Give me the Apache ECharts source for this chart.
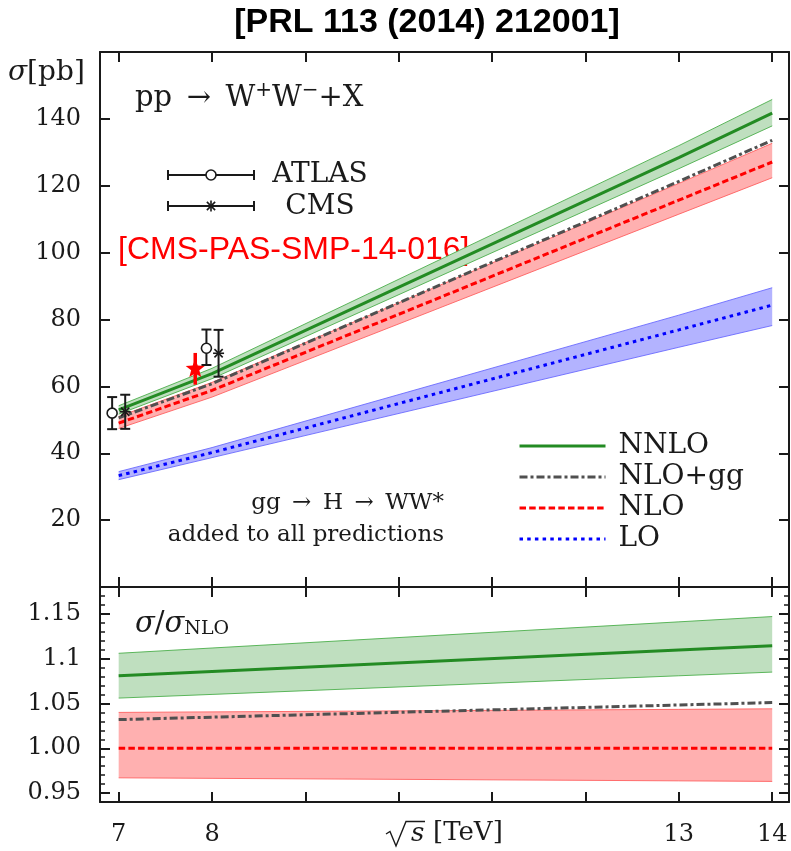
<!DOCTYPE html>
<html>
<head>
<meta charset="utf-8">
<script src="https://cdn.jsdelivr.net/npm/echarts@6/dist/echarts.min.js"></script>
<style>
  html, body { margin: 0; padding: 0; background: #fff; }
  #chart { width: 791px; height: 851px; }
</style>
</head>
<body>
<div id="chart"></div>
<script>
// Collider energies (TeV) at which the predictions are given
const energies = [7, 8, 13, 14];

// Cross sections in pb (gg -> H -> WW* included)
const nnlo     = [53.0, 63.8, 128.4, 141.7];
const nnloLow  = [51.7, 62.3, 125.1, 137.9];
const nnloHigh = [54.2, 65.4, 132.0, 145.8];
const nloGg    = [50.6, 60.8, 121.3, 133.6];
const nlo      = [49.0, 58.8, 115.7, 127.1];
const nloLow   = [47.4, 56.8, 111.5, 122.4];
const nloHigh  = [51.0, 61.2, 120.7, 132.7];
const lo       = [33.3, 40.2, 76.9, 84.3];
const loLow    = [32.1, 38.7, 71.7, 78.2];
const loHigh   = [34.5, 41.7, 81.3, 89.5];

// Ratios to the NLO central value
const rNnlo     = [1.081, 1.0858, 1.1097, 1.1145];
const rNnloLow  = [1.056, 1.0601, 1.0809, 1.085];
const rNnloHigh = [1.106, 1.1119, 1.1411, 1.147];
const rNloGg    = [1.032, 1.0347, 1.0483, 1.051];
const rNlo      = [1.0, 1.0, 1.0, 1.0];
const rNloLow   = [0.967, 0.9664, 0.9636, 0.963];
const rNloHigh  = [1.040, 1.0406, 1.0434, 1.044];

// Measurements (points drawn slightly displaced in sqrt(s) for readability)
const atlasX  = [6.93, 7.94];
const atlasY  = [52.0, 71.4];
const atlasLo = [47.2, 66.4];
const atlasHi = [56.8, 77.0];
const cmsX  = [7.07, 8.07];
const cmsY  = [52.4, 69.9];
const cmsLo = [47.3, 62.9];
const cmsHi = [57.5, 76.9];
const pasX  = [7.82];
const pasY  = [65.2];
const pasLo = [60.5];
const pasHi = [70.0];

// Axis ticks and labels
const xTicks = [7, 8, 9, 10, 11, 12, 13, 14];
const xLabels = [7, 8, 13, 14];
const yTicksTop = [20, 40, 60, 80, 100, 120, 140];
const yTicksRatio = [0.95, 1.00, 1.05, 1.10, 1.15];
const yLabelsRatio = ['0.95', '1.00', '1.05', '1.1', '1.15'];

const SERIF = 'DejaVu Serif';
const INK = '#1a1a1a';
const X_MIN = 6.8, X_MAX = 14.18;
const EN = '\u2002';

const pairs = (ys) => energies.map((x, i) => [x, ys[i]]);

// Uncertainty band: filled region between the low and high curves, with thin edges
function band(axis, lowv, hi, fill, edge) {
  return {
    type: 'custom', xAxisIndex: axis.x, yAxisIndex: axis.y, z: 2, silent: true, animation: false,
    encode: { x: 0, y: [1, 2] },
    data: energies.map((x, i) => [x, lowv[i], hi[i]]),
    renderItem: function (params, api) {
      if (params.dataIndex !== 0) return null;
      const upper = energies.map((x, i) => api.coord([x, hi[i]]));
      const lower = energies.map((x, i) => api.coord([x, lowv[i]]));
      return {
        type: 'group',
        children: [
          { type: 'polygon', shape: { points: upper.concat(lower.slice().reverse()) },
            style: { fill: fill, stroke: null } },
          { type: 'polyline', shape: { points: upper }, style: { stroke: edge, lineWidth: 0.9, fill: null } },
          { type: 'polyline', shape: { points: lower }, style: { stroke: edge, lineWidth: 0.9, fill: null } }
        ]
      };
    }
  };
}

function curve(name, axis, ys, color, type) {
  return {
    name: name, type: 'line', xAxisIndex: axis.x, yAxisIndex: axis.y,
    data: pairs(ys), symbol: 'none', z: 5, animation: false,
    lineStyle: { width: 3, color: color, type: type, cap: 'butt' },
    itemStyle: { color: color }
  };
}

function measurement(xs, ys, los, his, kind) {
  return {
    type: 'custom', xAxisIndex: 0, yAxisIndex: 0, z: 10, animation: false,
    encode: { x: 0, y: [1, 2, 3] },
    data: xs.map((x, i) => [x, ys[i], los[i], his[i]]),
    renderItem: function (params, api) {
      const c = api.coord([api.value(0), api.value(1)]);
      const pl = api.coord([api.value(0), api.value(2)]);
      const ph = api.coord([api.value(0), api.value(3)]);
      const children = [];
      if (kind === 'pas') {
        children.push({ type: 'line', shape: { x1: c[0], y1: pl[1], x2: c[0], y2: ph[1] },
          style: { stroke: '#ff0000', lineWidth: 3.5 } });
        const pts = [];
        for (let k = 0; k < 10; k++) {
          const r = k % 2 === 0 ? 10 : 4.3;
          const a = -Math.PI / 2 + k * Math.PI / 5;
          pts.push([c[0] + r * Math.cos(a), c[1] + r * Math.sin(a)]);
        }
        children.push({ type: 'polygon', shape: { points: pts }, style: { fill: '#ff0000' } });
        return { type: 'group', children: children };
      }
      const cap = 5;
      children.push({ type: 'line', shape: { x1: c[0], y1: pl[1], x2: c[0], y2: ph[1] },
        style: { stroke: INK, lineWidth: 2 } });
      children.push({ type: 'line', shape: { x1: c[0] - cap, y1: pl[1], x2: c[0] + cap, y2: pl[1] },
        style: { stroke: INK, lineWidth: 2 } });
      children.push({ type: 'line', shape: { x1: c[0] - cap, y1: ph[1], x2: c[0] + cap, y2: ph[1] },
        style: { stroke: INK, lineWidth: 2 } });
      if (kind === 'atlas') {
        children.push({ type: 'circle', shape: { cx: c[0], cy: c[1], r: 5 },
          style: { fill: '#fff', stroke: INK, lineWidth: 1.6 } });
      } else {
        const s = 5.5;
        children.push({ type: 'line', shape: { x1: c[0] - s, y1: c[1], x2: c[0] + s, y2: c[1] },
          style: { stroke: INK, lineWidth: 1.6 } });
        children.push({ type: 'line', shape: { x1: c[0] - s * 0.75, y1: c[1] - s * 0.75, x2: c[0] + s * 0.75, y2: c[1] + s * 0.75 },
          style: { stroke: INK, lineWidth: 1.6 } });
        children.push({ type: 'line', shape: { x1: c[0] - s * 0.75, y1: c[1] + s * 0.75, x2: c[0] + s * 0.75, y2: c[1] - s * 0.75 },
          style: { stroke: INK, lineWidth: 1.6 } });
      }
      return { type: 'group', children: children };
    }
  };
}

const axisLine = { show: true, onZero: false, lineStyle: { color: INK, width: 2 } };

function xAxis(grid, position, withLabels) {
  return {
    type: 'value', gridIndex: grid, position: position, min: X_MIN, max: X_MAX,
    axisLine: axisLine, splitLine: { show: false },
    axisTick: { show: true, inside: true, length: 10, customValues: xTicks,
      lineStyle: { color: INK, width: 2 } },
    axisLabel: withLabels ? { show: true, customValues: xLabels, margin: 21,
      fontFamily: SERIF, fontSize: 24, color: INK } : { show: false }
  };
}

function yAxisTop(position, withLabels) {
  return {
    type: 'value', gridIndex: 0, position: position, min: 0, max: 160,
    axisLine: axisLine, splitLine: { show: false },
    axisTick: { show: true, inside: true, length: 10, customValues: yTicksTop,
      lineStyle: { color: INK, width: 2 } },
    axisLabel: withLabels ? { show: true, customValues: yTicksTop, margin: 19,
      fontFamily: SERIF, fontSize: 24, color: INK } : { show: false }
  };
}

function yAxisRatio(position, withLabels) {
  return {
    type: 'value', gridIndex: 1, position: position, min: 0.94, max: 1.18,
    axisLine: axisLine, splitLine: { show: false },
    axisTick: { show: true, inside: true, length: 10, customValues: yTicksRatio,
      lineStyle: { color: INK, width: 2 } },
    axisLabel: withLabels ? { show: true, customValues: yTicksRatio, margin: 19,
      fontFamily: SERIF, fontSize: 24, color: INK,
      formatter: (v) => {
        const i = yTicksRatio.findIndex((t) => Math.abs(t - v) < 1e-6);
        return i >= 0 ? yLabelsRatio[i] : '';
      } } : { show: false }
  };
}

function yAxisRatioMinor(position) {
  return {
    type: 'value', gridIndex: 1, position: position, min: 0.94, max: 1.18, interval: 0.01,
    axisLine: { show: false }, splitLine: { show: false }, axisLabel: { show: false },
    axisTick: { show: true, inside: true, length: 5, lineStyle: { color: INK, width: 1.5 } }
  };
}

const TOP = { x: 0, y: 0 };
const RATIO = { x: 2, y: 2 };

const GREEN = '#238b23', GREEN_FILL = '#bfdfbf', GREEN_EDGE = '#4caf4c';
const RED = '#ff0000', RED_FILL = '#ffb0b0', RED_EDGE = '#ff6060';
const BLUE = '#0000ff', BLUE_FILL = '#b3b3ff', BLUE_EDGE = '#6a6aff';
const GREY = '#505050';

const DASH = [6.5, 3.2];
const DASHDOT = [8, 3, 3, 3];
const DOT = [3.5, 4.2];

const series = [
  band(TOP, loLow, loHigh, BLUE_FILL, BLUE_EDGE),
  band(TOP, nloLow, nloHigh, RED_FILL, RED_EDGE),
  band(TOP, nnloLow, nnloHigh, GREEN_FILL, GREEN_EDGE),
  curve('LO', TOP, lo, BLUE, DOT),
  curve('NLO', TOP, nlo, RED, DASH),
  curve('NLO+gg', TOP, nloGg, GREY, DASHDOT),
  curve('NNLO', TOP, nnlo, GREEN, 'solid'),
  band(RATIO, rNloLow, rNloHigh, RED_FILL, RED_EDGE),
  band(RATIO, rNnloLow, rNnloHigh, GREEN_FILL, GREEN_EDGE),
  curve('rNLO', RATIO, rNlo, RED, DASH),
  curve('rNLOgg', RATIO, rNloGg, GREY, DASHDOT),
  curve('rNNLO', RATIO, rNnlo, GREEN, 'solid'),
  measurement(atlasX, atlasY, atlasLo, atlasHi, 'atlas'),
  measurement(cmsX, cmsY, cmsLo, cmsHi, 'cms'),
  measurement(pasX, pasY, pasLo, pasHi, 'pas')
];

// Key for the measurement markers
function errorKey(y, kind) {
  const x1 = 168, x2 = 254, xc = 211, cap = 5;
  const items = [
    { type: 'line', shape: { x1: x1, y1: y, x2: x2, y2: y }, style: { stroke: INK, lineWidth: 2 } },
    { type: 'line', shape: { x1: x1, y1: y - cap, x2: x1, y2: y + cap }, style: { stroke: INK, lineWidth: 2 } },
    { type: 'line', shape: { x1: x2, y1: y - cap, x2: x2, y2: y + cap }, style: { stroke: INK, lineWidth: 2 } }
  ];
  if (kind === 'atlas') {
    items.push({ type: 'circle', shape: { cx: xc, cy: y, r: 5 }, style: { fill: '#fff', stroke: INK, lineWidth: 1.6 } });
  } else {
    const s = 5.5;
    items.push({ type: 'line', shape: { x1: xc, y1: y - s, x2: xc, y2: y + s }, style: { stroke: INK, lineWidth: 1.6 } });
    items.push({ type: 'line', shape: { x1: xc - s * 0.75, y1: y - s * 0.75, x2: xc + s * 0.75, y2: y + s * 0.75 }, style: { stroke: INK, lineWidth: 1.6 } });
    items.push({ type: 'line', shape: { x1: xc - s * 0.75, y1: y + s * 0.75, x2: xc + s * 0.75, y2: y - s * 0.75 }, style: { stroke: INK, lineWidth: 1.6 } });
  }
  return items;
}

const textBase = { fontFamily: SERIF, fill: INK };

const graphic = [
  { type: 'text', x: 427, y: 23, style: { text: '[PRL 113 (2014) 212001]',
      font: 'bold 34px "Liberation Sans"', fill: '#000', align: 'center', verticalAlign: 'middle' } },
  { type: 'text', x: 8, y: 73, style: { text: '{i|σ}[pb]', fontFamily: SERIF, fontSize: 28, fill: INK,
      verticalAlign: 'middle', rich: { i: { fontFamily: SERIF, fontStyle: 'italic', fontSize: 28 } } } },
  { type: 'text', x: 135, y: 98, style: Object.assign({}, textBase, {
      text: 'pp' + EN + '→' + EN + 'W{s|+}W{s|−}+X', fontSize: 29, verticalAlign: 'middle',
      rich: { s: { fontFamily: SERIF, fontSize: 20, verticalAlign: 'bottom', padding: [0, 0, 15, 0] } } }) },
  { type: 'text', x: 320, y: 175, style: Object.assign({}, textBase, { text: 'ATLAS', fontSize: 28,
      align: 'center', verticalAlign: 'middle' }) },
  { type: 'text', x: 320, y: 207, style: Object.assign({}, textBase, { text: 'CMS', fontSize: 28,
      align: 'center', verticalAlign: 'middle' }) },
  { type: 'text', x: 118, y: 250, style: { text: '[CMS-PAS-SMP-14-016]', font: '32px "Liberation Sans"',
      fill: '#ff0000', verticalAlign: 'middle' } },
  { type: 'text', x: 444, y: 503, style: Object.assign({}, textBase, {
      text: 'gg' + EN + '→' + EN + 'H' + EN + '→' + EN + 'WW*', fontSize: 23,
      align: 'right', verticalAlign: 'middle' }) },
  { type: 'text', x: 444, y: 535, style: Object.assign({}, textBase, { text: 'added to all predictions', fontSize: 23,
      align: 'right', verticalAlign: 'middle' }) },
  { type: 'text', x: 135, y: 624, style: Object.assign({}, textBase, {
      text: '{i|σ}/{i|σ}{sub|NLO}', fontSize: 29, verticalAlign: 'middle',
      rich: { i: { fontFamily: SERIF, fontStyle: 'italic', fontSize: 29 },
              sub: { fontFamily: SERIF, fontSize: 19, padding: [11, 0, 0, 0] } } }) },
  // horizontal axis title: radical sign with vinculum, italic s, unit
  { type: 'polyline', shape: { points: [[386, 834], [390, 831.5], [396, 846], [406, 821.5], [425, 821.5]] },
    style: { stroke: INK, lineWidth: 1.4, fill: null } },
  { type: 'text', x: 411, y: 834, style: Object.assign({}, textBase, { text: 's', fontSize: 26,
      fontStyle: 'italic', verticalAlign: 'middle' }) },
  { type: 'text', x: 433, y: 833, style: Object.assign({}, textBase, { text: '[TeV]', fontSize: 26,
      verticalAlign: 'middle' }) }
].concat(errorKey(175, 'atlas'), errorKey(206, 'cms'));

const option = {
  backgroundColor: '#fff',
  animation: false,
  grid: [
    { left: 100, top: 52, width: 689, height: 535, outerBoundsMode: 'none', containLabel: false },
    { left: 100, top: 587, width: 689, height: 215, outerBoundsMode: 'none', containLabel: false }
  ],
  xAxis: [
    xAxis(0, 'bottom', false),
    xAxis(0, 'top', false),
    xAxis(1, 'bottom', true),
    xAxis(1, 'top', false)
  ],
  yAxis: [
    yAxisTop('left', true),
    yAxisTop('right', false),
    yAxisRatio('left', true),
    yAxisRatioMinor('left'),
    yAxisRatio('right', false),
    yAxisRatioMinor('right')
  ],
  legend: {
    orient: 'vertical', left: 513, top: 427,
    itemWidth: 86, itemHeight: 14, itemGap: 3,
    data: ['NNLO', 'NLO+gg', 'NLO', 'LO'],
    itemStyle: { color: 'rgba(0,0,0,0)', borderWidth: 0, opacity: 0 },
    lineStyle: { width: 3 },
    textStyle: { fontFamily: SERIF, fontSize: 28, color: INK, padding: [0, 0, 0, 8] },
    selectedMode: false
  },
  graphic: graphic,
  series: series
};

const chart = echarts.init(document.getElementById('chart'), null, { renderer: 'canvas' });
chart.setOption(option);
</script>
</body>
</html>
